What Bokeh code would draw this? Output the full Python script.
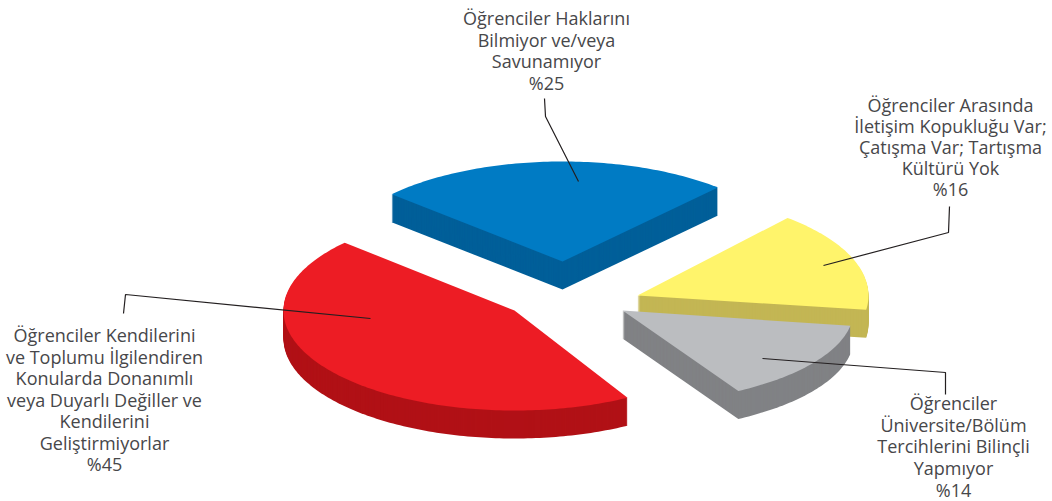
import math
from bokeh.plotting import figure
from bokeh.models import Range1d
from bokeh.core.properties import value
from bokeh.embed import file_html
from bokeh.resources import INLINE

# ---- data
categories = ["Haklar", "Iletisim", "Tercih", "Gelistirme"]
shares = [25, 16, 14, 45]
top_labels = [
    ["Öğrenciler Haklarını", "Bilmiyor ve/veya", "Savunamıyor", "%25"],
    ["Öğrenciler Arasında", "İletişim Kopukluğu Var;", "Çatışma Var; Tartışma", "Kültürü Yok", "%16"],
    ["Öğrenciler", "Üniversite/Bölüm", "Tercihlerini Bilinçli", "Yapmıyor", "%14"],
    ["Öğrenciler Kendilerini", "ve Toplumu İlgilendiren", "Konularda Donanımlı", "veya Duyarlı Değiller ve",
     "Kendilerini", "Geliştirmiyorlar", "%45"],
]

# ---- styles / layout (page pixels)
face_colors = ["#007BC4", "#FFF46B", "#BBBDC0", "#ED1C24"]
side_colors = ["#005F99", "#C3B654", "#808285", "#B11116"]
tip_x = [562, 637, 622, 514]
tip_y = [261, 295, 310, 310]
RX, DEPTH = 231, 28
slice_ry = [100, 102, 93, 100]        # perspective squash of each slice
rotate = [-1.2, -3.0, -1.6, -0.8]     # perspective twist of each slice, degrees
START = -46.5
label_cx = [546, 950, 953, 104]
label_y0 = [17.5, 104, 402.5, 334.5]
label_step = [21.7, 21.2, 21.7, 21.5]
leader_x = [[544, 545, 578], [949, 948, 823], [945, 945, 762], [123, 125, 370]]
leader_y = [[98, 116, 181], [206, 232, 265], [394, 372, 358], [313, 294, 318]]
TEXT = "#47474A"

p = figure(width=1052, height=501, x_range=Range1d(0, 1052), y_range=Range1d(501, 0),
           output_backend="svg", toolbar_location=None, min_border=0, outline_line_color=None)
p.axis.visible = False
p.grid.visible = False

angle = START
for i, share in enumerate(shares):
    sweep = share * 3.6
    n = max(8, int(sweep))
    xs = [tip_x[i]]
    ys = [tip_y[i]]
    for k in range(n + 1):
        t = math.radians(angle + rotate[i] + sweep * k / n)
        xs.append(tip_x[i] + RX * math.sin(t))
        ys.append(tip_y[i] - slice_ry[i] * math.cos(t))
    # extrusion: stacked copies of the face, from the bottom up
    steps = int(DEPTH)
    for s in range(steps, 0, -1):
        off = DEPTH * s / steps
        p.patch(xs, [y + off for y in ys], fill_color=side_colors[i], line_color=None)
    p.patch(xs, ys, fill_color=face_colors[i], line_color=None)
    angle += sweep

for i in range(len(shares)):
    p.line(leader_x[i], leader_y[i], line_color="#231F20", line_width=1.2)
    lines = top_labels[i]
    p.text([label_cx[i]] * len(lines), [label_y0[i] + j * label_step[i] for j in range(len(lines))],
           text=lines, text_align="center", text_baseline="middle",
           text_font=value("Open Sans"), text_font_size="18px", text_color=TEXT)

open("out.html", "w").write(file_html(p, INLINE))
